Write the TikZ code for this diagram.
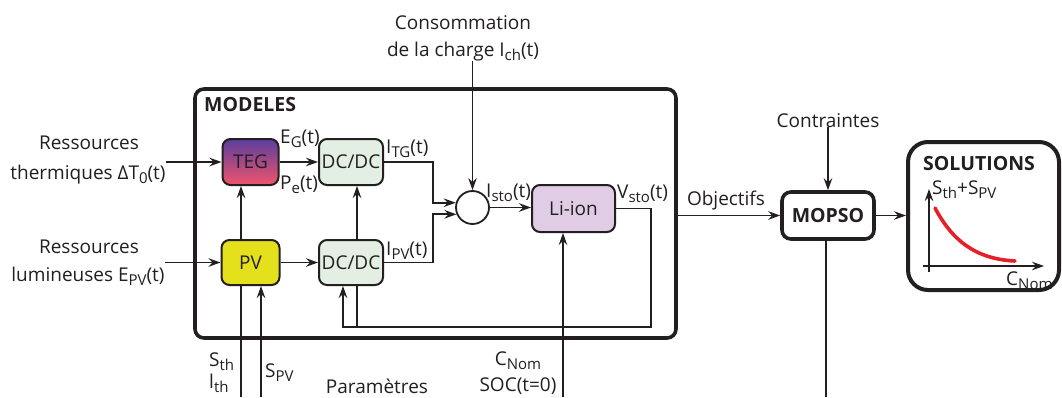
\documentclass[tikz,border=0pt]{standalone}
\usepackage{fontspec}
\setmainfont{Open Sans}
\usetikzlibrary{arrows.meta,shapes.geometric}
\newcommand{\sbs}[1]{\raisebox{-0.26em}{\fontsize{15}{15}\selectfont #1}}
\definecolor{tegtop}{HTML}{5A3E9E}
\definecolor{tegmid}{HTML}{C4528E}
\definecolor{tegbot}{HTML}{F0546C}
\definecolor{pvyel}{HTML}{E4E01C}
\definecolor{dcgreen}{HTML}{E3EFE3}
\definecolor{lipurple}{HTML}{E0CCE4}
\definecolor{ink}{HTML}{231F20}
\definecolor{curvered}{HTML}{E6202A}
\begin{document}
\begin{tikzpicture}[x=1pt,y=-1pt,
  every node/.style={font=\fontsize{19}{23}\selectfont, inner sep=0pt, text=ink},
  lbl/.style={anchor=base},
  lblw/.style={anchor=base west},
  blk/.style={draw=ink, line width=2pt, rounded corners=8pt},
  bigbox/.style={draw=ink, line width=3.6pt},
  conn/.style={draw=ink, line width=1.7pt, -{Stealth[length=12pt,width=8.5pt,inset=4pt]}},
  ln/.style={draw=ink, line width=1.7pt},
  thin/.style={draw=ink, line width=1.4pt},
  thinconn/.style={draw=ink, line width=1.4pt, -{Stealth[length=12pt,width=8.5pt,inset=4pt]}},
  bold/.style={font=\fontsize{19.5}{23}\selectfont\bfseries}
]
\useasboundingbox (0,0) rectangle (1062,397);
\fill[white] (0,0) rectangle (1062,397);

% big container
\node[bigbox, rounded corners=9pt, minimum width=481pt, minimum height=249pt] (modeles) at (435.5,213.5) {};
\node[lblw, bold] (modlbl) at (204,111) {MODELES};

% blocks
\node[blk, top color=tegtop, middle color=tegmid, bottom color=tegbot, minimum width=56pt, minimum height=46pt] (teg) at (250.5,162) {TEG};
\node[blk, fill=pvyel, minimum width=58pt, minimum height=45pt] (pv) at (250.5,262.5) {PV};
\node[blk, fill=dcgreen, minimum width=64pt, minimum height=46pt] (dc1) at (351,162) {DC/DC};
\node[blk, fill=dcgreen, minimum width=64pt, minimum height=45pt] (dc2) at (351,262.5) {DC/DC};
\node[draw=ink, line width=1.8pt, circle, minimum size=33pt, fill=white] (circ) at (472.5,207.5) {};
\node[blk, fill=lipurple, minimum width=83pt, minimum height=47pt] (li) at (573.5,208.5) {Li-ion};
\node[blk, line width=3.6pt, rounded corners=9pt, minimum width=92pt, minimum height=47pt, bold] (mopso) at (828,215.5) {MOPSO};
\node[bigbox, line width=4pt, rounded corners=20pt, minimum width=151pt, minimum height=148pt] (sol) at (983.5,216) {};
\node[lblw, bold] (sollbl) at (923,170) {SOLUTIONS};

% external texts
\node[lbl] (cons1) at (463,29) {Consommation};
\node[lbl] (cons2) at (463,56) {de la charge I\sbs{ch}(t)};
\node[lbl] (res1) at (89,149) {Ressources};
\node[lbl] (res2) at (88,179) {thermiques ΔT\sbs{0}(t)};
\node[lbl] (lum1) at (89,253) {Ressources};
\node[lbl] (lum2) at (88,281) {lumineuses E\sbs{PV}(t)};
\node[lbl] (contr) at (828,127) {Contraintes};
\node[lbl] (obj) at (726,205) {Objectifs};

% signal labels
\node[lblw] (eg) at (280,143) {E\sbs{G}(t)};
\node[lblw] (pe) at (280,189) {P\sbs{e}(t)};
\node[lblw] (itg) at (386,153) {I\sbs{TG}(t)};
\node[lblw] (ipv) at (386,255) {I\sbs{PV}(t)};
\node[lblw] (isto) at (486,197) {I\sbs{sto}(t)};
\node[lblw] (vsto) at (617,198) {V\sbs{sto}(t)};

% bottom labels
\node[lblw] (sth) at (209,366) {S\sbs{th}};
\node[lblw] (lth) at (209,388) {l\sbs{th}};
\node[lblw] (spv) at (265,377) {S\sbs{PV}};
\node[lbl] (param) at (377,393) {Paramètres};
\node[lbl] (cnom) at (518,365) {C\sbs{Nom}};
\node[lbl] (soc) at (518,391) {SOC(t=0)};

% helper coordinates
\coordinate (bot) at (0,397);
\coordinate (jx) at (433,0);
\coordinate (fb) at (651,327);

% connectors
\draw[conn] (res2.east |- teg.west) -- (teg.west);
\draw[conn] (lum2.east |- pv.west) -- (pv.west);
\draw[conn] (teg.east) -- (dc1.west);
\draw[conn] (pv.east) -- (dc2.west);
\draw[conn] ([xshift=-9.5pt]pv.north) -- ([xshift=-9.5pt]teg.south);
\draw[conn] ([xshift=6pt]dc2.north) -- ([xshift=6pt]dc1.south);
\draw[conn] (dc1.east) -| (jx |- circ.164) -- (circ.164);
\draw[conn] (dc2.east) -| (jx |- circ.203) -- (circ.203);
\draw[conn] (cons2.south -| circ.north) -- (circ.north);
\draw[conn] (circ.east) -- (li.west |- circ.east);
\draw[thinconn] (li.east) -| (fb) -| ([xshift=-8pt]dc2.south);
\draw[thin] ([xshift=6pt]dc2.south) -- ([xshift=6pt]dc2.south |- fb);
\draw[conn] (mopso.west -| modeles.east) -- (mopso.west);
\draw[conn] (contr.south -| mopso.north) -- (mopso.north);
\draw[conn] (mopso.east) -- (sol.west |- mopso.east);
\draw[ln] ([xshift=-2pt]mopso.south) -- ([xshift=-2pt]mopso.south |- bot);
\draw[thin] ([xshift=-9.5pt]pv.south) -- ([xshift=-9.5pt]pv.south |- bot);
\draw[conn] ([xshift=10.5pt]pv.south |- bot) -- ([xshift=10.5pt]pv.south);
\draw[thinconn] ([xshift=-10.5pt]li.south |- bot) -- ([xshift=-10.5pt]li.south);

% solutions graph
\draw[thinconn] (929,272) -- (929,189);
\draw[thinconn] (923,266) -- (1044,266);
\node[lblw] (yl) at (932,194) {S\sbs{th}+S\sbs{PV}};
\node[lblw] (xl) at (1006,285) {C\sbs{Nom}};
\draw[curvered, line width=3.6pt, line cap=round] (935,208) .. controls (952,240) and (975,259) .. (1015,261);
\end{tikzpicture}
\end{document}
